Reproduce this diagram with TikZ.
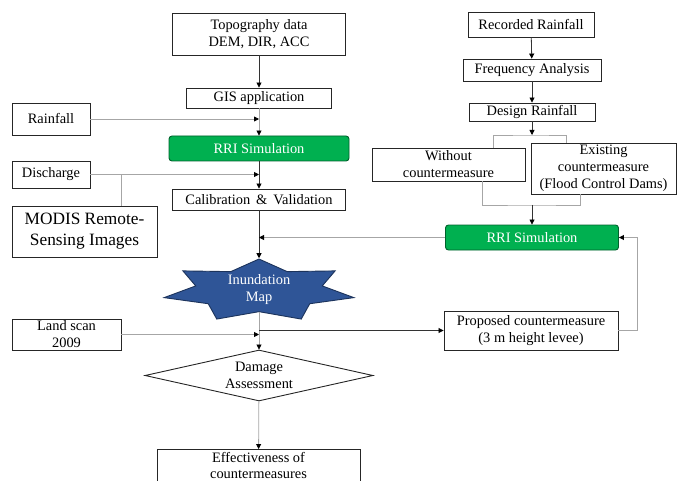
\documentclass[tikz,border=0pt]{standalone}
\usepackage{fontspec}
\setmainfont{Liberation Serif}
\usepackage{tikz}
\usetikzlibrary{arrows.meta, calc, positioning, shapes.geometric}
\definecolor{simgreen}{HTML}{00B050}
\definecolor{mapblue}{HTML}{2F5597}
\definecolor{lngray}{HTML}{A6A6A6}
\tikzstyle{box}=[fill=white, draw=black!85, shape=rectangle, line width=0.9pt, inner sep=0.5pt, align=center, font=\fontsize{14.4}{17}\selectfont]
\tikzstyle{sim}=[box, fill=simgreen, draw=simgreen!55!black, rounded corners=3pt, text=white]
\tikzstyle{dia}=[box, shape=diamond, aspect=4.47, inner sep=0pt]
\tikzstyle{arw}=[draw=black!80, line width=0.8pt, -{Triangle[length=5pt, width=5pt, color=black]}]
\tikzstyle{garw}=[draw=lngray, line width=0.8pt, -{Triangle[length=5pt, width=5pt, color=black]}]
\tikzstyle{gln}=[draw=lngray, line width=0.9pt]

\begin{document}
\begin{tikzpicture}[x=1pt, y=-1pt]
		\useasboundingbox (0,0) rectangle (677,481);
		\clip (0,0) rectangle (677,481);

		\node[style=box, minimum width=173, minimum height=42] (1) at (259,34) {Topography data\\DEM, DIR, ACC};
		\node[style=box, minimum width=145, minimum height=20] (2) at (259,98) {GIS application};
		\node[style=box, minimum width=78, minimum height=32] (3) at (51,119) {Rainfall};
		\node[style=sim, minimum width=180, minimum height=25] (4) at (259,148.5) {RRI Simulation};
		\node[style=box, minimum width=78, minimum height=27] (5) at (51,174.5) {Discharge};
		\node[style=box, minimum width=173, minimum height=21] (6) at (259,199.5) {Calibration \,\&\, Validation};
		\node[style=box, minimum width=145, minimum height=51, font=\fontsize{17.3}{21}\selectfont] (7) at (84.5,231.5) {MODIS Remote-\\Sensing Images};
		\node[draw=mapblue!60!black, fill=mapblue, line width=0.9pt, shape=star, star points=7, star point ratio=1.5, minimum size=63.2, inner sep=0pt, xscale=3.08] (8) at (259,290.6) {};
		\node[text=white, align=center, font=\fontsize{14.4}{17}\selectfont] (9) at (259,289.5) {Inundation\\Map};
		\node[style=box, minimum width=109, minimum height=31] (10) at (66.5,334.5) {Land scan\\2009};
		\node[style=dia, minimum width=228, minimum height=51] (11) at (259,375.5) {Damage\\Assessment};
		\node[style=box, minimum width=203, minimum height=32, font=\fontsize{14.4}{16.5}\selectfont] (12) at (258.5,465.5) {Effectiveness of\\countermeasures};

		\node[style=box, minimum width=126, minimum height=25] (13) at (531,24.5) {Recorded Rainfall};
		\node[style=box, minimum width=138, minimum height=22] (14) at (532,70) {Frequency Analysis};
		\node[style=box, minimum width=126, minimum height=18] (15) at (532,112) {Design Rainfall};
		\node[style=box, minimum width=153, minimum height=33] (16) at (448.5,164.5) {Without\\countermeasure};
		\node[style=box, minimum width=145, minimum height=51] (17) at (603.5,168.5) {Existing\\countermeasure\\(Flood Control Dams)};
		\node[style=sim, minimum width=173, minimum height=25] (18) at (532,237.5) {RRI Simulation};
		\node[style=box, minimum width=174, minimum height=39] (19) at (531,330.5) {Proposed countermeasure\\(3 m height levee)};

		\coordinate (20) at (532,135);
		\coordinate (21) at (532,205);
		\coordinate (22) at (121,174.5);

		\draw[arw] (1) -- (2);
		\draw[garw] (2) -- (4);
		\draw[garw] (3) -- (3 -| 2.south);
		\draw[arw] (4) -- (6);
		\draw[garw] (5) -- (5 -| 4.south);
		\draw[gln] (22) -- (22 |- 7.north);
		\draw[arw] (6) -- (8.north);
		\draw[garw] (18) -- (18.west -| 6.south);
		\draw[garw] (8.south) -- (11.north);
		\draw[garw] (10) -- (10.east -| 11.north);
		\draw[arw] (19.west -| 11.north) -- (19);
		\draw[garw] (11) -- (12);

		\draw[arw] (13) -- (14);
		\draw[arw] (14) -- (15);
		\draw[arw] (15) -- (20);
		\draw[gln] ($(16.north)+(44.5,0)$) |- (20) -| ($(17.north)+(-37.5,0)$);
		\draw[gln] ($(16.south)+(33.5,0)$) |- (21) -| ($(17.south)+(-23.5,0)$);
		\draw[arw] (21) -- (18);
		\draw[garw] (19.east) -- ++(19,0) |- (18.east);
	\end{tikzpicture}
\end{document}
